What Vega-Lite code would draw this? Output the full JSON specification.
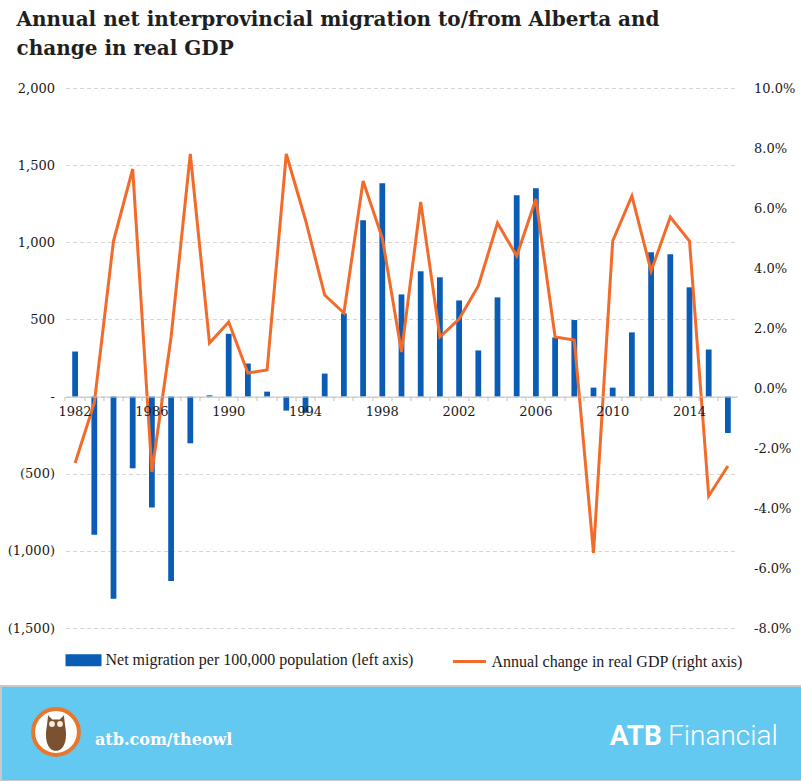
{
  "$schema": "https://vega.github.io/schema/vega-lite/v6.json",
  "background": "white",
  "padding": {"top": 10, "left": 0, "right": 0, "bottom": 0},
  "spacing": 58,
  "bounds": "flush",
  "center": true,
  "config": {
    "view": {"stroke": null},
    "axis": {"labelFont": "DejaVu Serif", "labelFontSize": 13, "labelColor": "#1a1a1a", "title": null}
  },
  "resolve": {
    "scale": {"x": "independent", "y": "independent", "color": "independent"},
    "legend": {"color": "independent"}
  },
  "datasets": {
    "alberta": [
      {"Year": 1982, "Migration": 292, "GDP": -2.5},
      {"Year": 1983, "Migration": -895, "GDP": -0.5},
      {"Year": 1984, "Migration": -1310, "GDP": 4.9},
      {"Year": 1985, "Migration": -465, "GDP": 7.3},
      {"Year": 1986, "Migration": -719, "GDP": -2.8},
      {"Year": 1987, "Migration": -1195, "GDP": 1.7},
      {"Year": 1988, "Migration": -303, "GDP": 7.8},
      {"Year": 1989, "Migration": 8, "GDP": 1.5},
      {"Year": 1990, "Migration": 407, "GDP": 2.2},
      {"Year": 1991, "Migration": 214, "GDP": 0.5},
      {"Year": 1992, "Migration": 32, "GDP": 0.6},
      {"Year": 1993, "Migration": -91, "GDP": 7.8},
      {"Year": 1994, "Migration": -105, "GDP": 5.6},
      {"Year": 1995, "Migration": 149, "GDP": 3.1},
      {"Year": 1996, "Migration": 539, "GDP": 2.5},
      {"Year": 1997, "Migration": 1143, "GDP": 6.9},
      {"Year": 1998, "Migration": 1383, "GDP": 5.0},
      {"Year": 1999, "Migration": 662, "GDP": 1.2},
      {"Year": 2000, "Migration": 812, "GDP": 6.2},
      {"Year": 2001, "Migration": 773, "GDP": 1.7},
      {"Year": 2002, "Migration": 623, "GDP": 2.3},
      {"Year": 2003, "Migration": 299, "GDP": 3.4},
      {"Year": 2004, "Migration": 643, "GDP": 5.5},
      {"Year": 2005, "Migration": 1305, "GDP": 4.4},
      {"Year": 2006, "Migration": 1351, "GDP": 6.3},
      {"Year": 2007, "Migration": 383, "GDP": 1.7},
      {"Year": 2008, "Migration": 496, "GDP": 1.6},
      {"Year": 2009, "Migration": 58, "GDP": -5.5},
      {"Year": 2010, "Migration": 58, "GDP": 4.9},
      {"Year": 2011, "Migration": 416, "GDP": 6.4},
      {"Year": 2012, "Migration": 935, "GDP": 3.9},
      {"Year": 2013, "Migration": 922, "GDP": 5.7},
      {"Year": 2014, "Migration": 708, "GDP": 4.9},
      {"Year": 2015, "Migration": 305, "GDP": -3.6},
      {"Year": 2016, "Migration": -236, "GDP": -2.6}
    ],
    "banner": [
      {"part": "logo"},
      {"part": "url", "label": "atb.com/theowl"},
      {"part": "brand", "label": "ATB"},
      {"part": "name", "label": "Financial"}
    ]
  },
  "vconcat": [
    {
      "width": 672,
      "height": 540,
      "title": {
        "text": ["Annual net interprovincial migration to/from Alberta and", "change in real GDP"],
        "anchor": "start",
        "frame": "bounds",
        "font": "DejaVu Serif",
        "fontSize": 20,
        "fontWeight": "bold",
        "color": "#1f1f1f",
        "lineHeight": 29,
        "dx": 15,
        "offset": 23
      },
      "data": {"name": "alberta"},
      "resolve": {"scale": {"y": "independent"}, "axis": {"x": "independent"}},
      "layer": [
        {
          "mark": {"type": "bar"},
          "encoding": {
            "x": {
              "field": "Year",
              "type": "ordinal",
              "scale": {"paddingInner": 0.7, "paddingOuter": 0.35},
              "axis": {
                "values": [1982, 1986, 1990, 1994, 1998, 2002, 2006, 2010, 2014],
                "offset": -231.43,
                "domainColor": "#c0c0c0",
                "ticks": false,
                "labelAngle": 0,
                "labelPadding": 9,
                "zindex": 1
              }
            },
            "y": {
              "field": "Migration",
              "type": "quantitative",
              "scale": {"domain": [-1500, 2000], "nice": false},
              "axis": {
                "values": [-1500, -1000, -500, 0, 500, 1000, 1500, 2000],
                "labelExpr": "datum.value == 0 ? '-\u00a0\u00a0' : datum.value < 0 ? '(' + format(-datum.value, ',') + ')' : format(datum.value, ',')",
                "domain": false,
                "ticks": false,
                "tickSize": 0,
                "labelPadding": 11,
                "minExtent": 64,
                "maxExtent": 64,
                "grid": true,
                "gridColor": "#d6d6d6",
                "gridDash": [4, 3]
              }
            },
            "color": {
              "datum": "Net migration per 100,000 population (left axis)",
              "scale": {
                "domain": ["Net migration per 100,000 population (left axis)", "Annual change in real GDP (right axis)"],
                "range": ["#0a5cb5", "#f26b2a"]
              },
              "legend": {
                "orient": "bottom",
                "direction": "horizontal",
                "title": null,
                "labelFont": "Liberation Serif",
                "labelFontSize": 16,
                "labelColor": "#1a1a1a",
                "labelLimit": 400,
                "symbolSize": 1089,
                "columnPadding": 33,
                "labelOffset": 4,
                "offset": 14,
                "encode": {
                  "symbols": {
                    "update": {
                      "shape": {"signal": "datum.value === 'Annual change in real GDP (right axis)' ? 'M-1,0H1' : 'M-1,-0.27H1V0.27H-1Z'"},
                      "fill": {"signal": "datum.value === 'Annual change in real GDP (right axis)' ? 'transparent' : '#0a5cb5'"},
                      "stroke": {"signal": "datum.value === 'Annual change in real GDP (right axis)' ? '#f26b2a' : 'transparent'"},
                      "strokeWidth": {"value": 3},
                      "opacity": {"value": 1}
                    }
                  }
                }
              }
            }
          }
        },
        {
          "mark": {"type": "line", "strokeWidth": 3},
          "encoding": {
            "x": {
              "field": "Year",
              "type": "ordinal",
              "axis": {
                "orient": "top",
                "offset": -312.57,
                "labels": false,
                "domain": false,
                "ticks": true,
                "tickSize": 4,
                "tickColor": "#c0c0c0",
                "bandPosition": -1.1667,
                "grid": false
              }
            },
            "y": {
              "field": "GDP",
              "type": "quantitative",
              "scale": {"domain": [-8, 10], "nice": false},
              "axis": {
                "orient": "right",
                "values": [-8, -6, -4, -2, 0, 2, 4, 6, 8, 10],
                "labelExpr": "(datum.value < 0 ? '-' : '') + format(abs(datum.value), '.1f') + '%'",
                "domain": false,
                "ticks": false,
                "tickSize": 0,
                "labelPadding": 16,
                "grid": false
              }
            },
            "color": {"datum": "Annual change in real GDP (right axis)"}
          }
        }
      ]
    },
    {
      "width": 801,
      "height": 95,
      "view": {"fill": "#63c9f1", "stroke": "#c9c9c9", "strokeWidth": 2},
      "data": {"name": "banner"},
      "encoding": {
        "x": {"type": "quantitative", "scale": {"domain": [0, 801], "nice": false}, "axis": null},
        "y": {"type": "quantitative", "scale": {"domain": [0, 95], "nice": false, "reverse": true}, "axis": null}
      },
      "layer": [
        {
          "transform": [{"filter": "datum.part == 'logo'"}],
          "mark": {"type": "point", "shape": "circle", "filled": true, "fill": "white", "stroke": "#e8772e", "strokeWidth": 4, "size": 2100, "opacity": 1},
          "encoding": {"x": {"datum": 55}, "y": {"datum": 46}}
        },
        {
          "transform": [{"filter": "datum.part == 'logo'"}],
          "mark": {"type": "point", "shape": "M-0.42,-0.95L-0.2,-0.72L0.2,-0.72L0.42,-0.95L0.5,-0.3C0.62,0.3 0.45,0.95 0,0.95C-0.45,0.95 -0.62,0.3 -0.5,-0.3Z", "filled": true, "fill": "#7a5230", "size": 1400, "opacity": 1},
          "encoding": {"x": {"datum": 55}, "y": {"datum": 47}}
        },
        {
          "transform": [{"filter": "datum.part == 'logo'"}],
          "mark": {"type": "point", "shape": "circle", "filled": true, "fill": "#f4eadc", "size": 34, "opacity": 1},
          "encoding": {"x": {"datum": 51}, "y": {"datum": 38}}
        },
        {
          "transform": [{"filter": "datum.part == 'logo'"}],
          "mark": {"type": "point", "shape": "circle", "filled": true, "fill": "#f4eadc", "size": 34, "opacity": 1},
          "encoding": {"x": {"datum": 59}, "y": {"datum": 38}}
        },
        {
          "transform": [{"filter": "datum.part == 'url'"}],
          "mark": {"type": "text", "align": "left", "baseline": "middle", "font": "DejaVu Serif", "fontSize": 16, "fontWeight": "bold", "color": "white"},
          "encoding": {"x": {"datum": 94}, "y": {"datum": 54}, "text": {"field": "label"}}
        },
        {
          "transform": [{"filter": "datum.part == 'brand'"}],
          "mark": {"type": "text", "align": "right", "baseline": "middle", "font": "Roboto", "fontSize": 28, "fontWeight": "bold", "color": "white"},
          "encoding": {"x": {"datum": 661}, "y": {"datum": 51}, "text": {"field": "label"}}
        },
        {
          "transform": [{"filter": "datum.part == 'name'"}],
          "mark": {"type": "text", "align": "left", "baseline": "middle", "font": "Roboto", "fontSize": 28, "fontWeight": 300, "color": "white"},
          "encoding": {"x": {"datum": 667}, "y": {"datum": 51}, "text": {"field": "label"}}
        }
      ]
    }
  ]
}
